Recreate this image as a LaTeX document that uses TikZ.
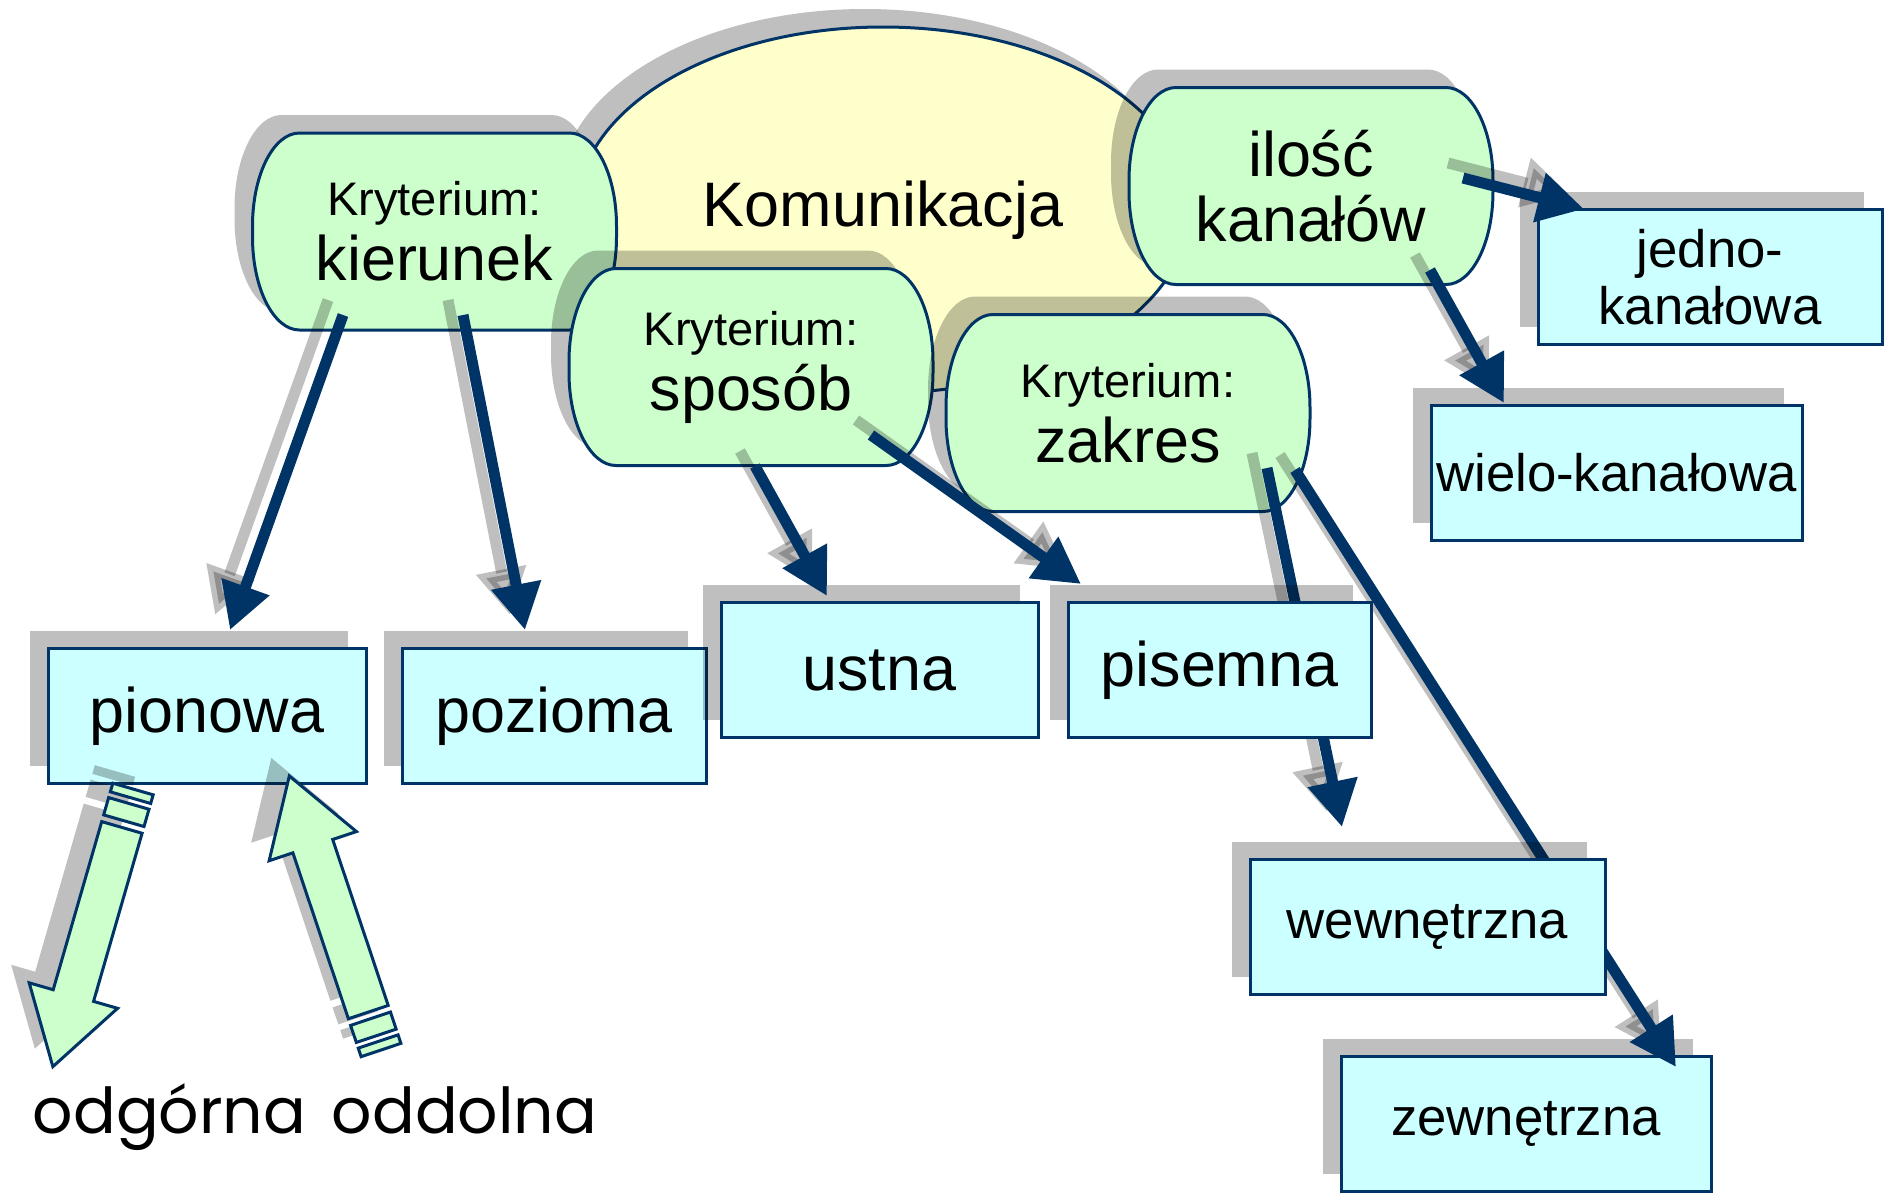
\documentclass[tikz,border=0pt]{standalone}
\usepackage{fontspec}
\setmainfont{Liberation Sans}
\newfontfamily\geofont{Poppins}
\usetikzlibrary{arrows.meta,shapes.geometric,shadows,calc}
\definecolor{navy}{RGB}{0,51,102}
\definecolor{critgreen}{RGB}{204,255,204}
\definecolor{boxcyan}{RGB}{204,255,255}
\definecolor{ellyellow}{RGB}{255,255,204}
\pgfdeclarelayer{front}
\pgfsetlayers{main,front}

\begin{document}
\begin{tikzpicture}[
  sh/.style={drop shadow={shadow xshift=-0.18cm, shadow yshift=0.18cm, fill=black, opacity=0.25}},
  box/.style={draw=navy, line width=0.03cm, fill=boxcyan, sh, inner sep=0pt, minimum height=1.35cm, font=\fontsize{17.9}{19}\selectfont},
  smallbox/.style={box, align=center, font=\fontsize{15}{16.3}\selectfont},
  crit/.style={draw=navy, line width=0.03cm, fill=critgreen, sh},
  ovalpath/.style={insert path={(-1.35,0.985) -- (1.35,0.985)
      arc[start angle=90, end angle=0, x radius=0.47, y radius=0.93] -- (1.82,-0.055)
      arc[start angle=0, end angle=-90, x radius=0.47, y radius=0.93] -- (-1.35,-0.985)
      arc[start angle=-90, end angle=-180, x radius=0.47, y radius=0.93] -- (-1.82,0.055)
      arc[start angle=180, end angle=90, x radius=0.47, y radius=0.93] -- cycle}},
  crittext/.style={align=center, font=\fontsize{17.9}{18.5}\selectfont},
  arrow/.style={draw=navy, line width=0.11cm, -{Triangle[length=0.46cm, width=0.48cm]},
    preaction={draw=black, line width=0.11cm, opacity=0.25, transform canvas={shift={(-0.15,0.15)}}}},
  hollow/.style={draw=navy, line width=0.03cm, fill=critgreen},
  hollowsh/.style={fill=black, opacity=0.25},
  stripearrow/.pic={
    \path[pic actions] (0,-0.21) rectangle (0.09,0.21);
    \path[pic actions] (0.15,-0.21) rectangle (0.33,0.21);
    \path[pic actions] (0.40,-0.21) -- (2.15,-0.21) -- (2.15,-0.46) -- (2.89,0)
      -- (2.15,0.46) -- (2.15,0.21) -- (0.40,0.21) -- cycle;
  }
]
\useasboundingbox (0,0) rectangle (18.84,-11.97);

\node[ellipse, draw=navy, line width=0.03cm, fill=ellyellow, sh, inner sep=0pt,
  minimum width=6.12cm, minimum height=3.66cm, font=\fontsize{17.9}{19}\selectfont] (kom) at (8.83,-2.10) {Komunikacja};

\path[crit, shift={(4.345,-2.315)}, ovalpath];
\node[crittext] (kier) at (4.345,-2.315) {{\fontsize{13.4}{18.5}\selectfont Kryterium:}\\kierunek};
\path[crit, shift={(13.11,-1.86)}, ovalpath];
\node[crittext] (ilo) at (13.11,-1.86) {ilość\\kanałów};
\path[crit, shift={(7.51,-3.67)}, ovalpath];
\node[crittext] (spo) at (7.51,-3.67) {{\fontsize{13.4}{18.5}\selectfont Kryterium:}\\sposób};
\path[crit, shift={(11.28,-4.13)}, ovalpath];
\node[crittext] (zak) at (11.28,-4.13) {{\fontsize{13.4}{18.5}\selectfont Kryterium:}\\zakres};

\node[box, minimum width=3.18cm] (pion) at (2.07,-7.16) {pionowa};
\node[box, minimum width=3.04cm] (poz) at (5.54,-7.16) {pozioma};
\node[box, minimum width=3.17cm] (ust) at (8.795,-6.70) {ustna};
\node[smallbox, minimum width=3.70cm] (zew) at (15.26,-11.24) {zewnętrzna};
\node[smallbox, minimum width=3.44cm] (jed) at (17.10,-2.77) {jedno-\\kanałowa};
\node[smallbox, minimum width=3.71cm] (wie) at (16.165,-4.73) {wielo-kanałowa};
\begin{pgfonlayer}{front}
\node[box, minimum width=3.03cm] (pis) at (12.195,-6.70) {pisemna};
\node[smallbox, minimum width=3.55cm] (wew) at (14.275,-9.27) {wewnętrzna};
\end{pgfonlayer}

\draw[arrow] ([shift={(-0.915,-0.835)}]kier.center) -- ([shift={(0.23,0.17)}]pion.north);
\draw[arrow] ([shift={(0.285,-0.835)}]kier.center) -- ([shift={(-0.29,0.17)}]poz.north);
\draw[arrow] ([shift={(0.04,-0.99)}]spo.center) -- ([shift={(-0.525,0.05)}]ust.north);
\draw[arrow] ([shift={(1.20,-0.68)}]spo.center) -- ([shift={(-1.385,0.17)}]pis.north);
\draw[arrow] ([shift={(1.39,-0.55)}]zak.center) -- ([shift={(-0.855,0.31)}]wew.north);
\draw[arrow] ([shift={(1.67,-0.57)}]zak.center) -- ([shift={(1.50,-0.12)}]zew.north);
\draw[arrow] ([shift={(1.52,0.08)}]ilo.center) -- ([shift={(-1.26,-0.01)}]jed.north);
\draw[arrow] ([shift={(1.19,-0.84)}]ilo.center) -- ([shift={(-1.125,0.01)}]wie.north);

\coordinate (down) at (1.33,-7.89);
\coordinate (up) at (3.81,-10.50);
\pic[rotate=-106.1, hollowsh] at ($(down)+(-0.18,0.18)$) {stripearrow};
\pic[rotate=-106.1, hollow] at (down) {stripearrow};
\pic[rotate=108.5, hollowsh] at ($(up)+(-0.18,0.18)$) {stripearrow};
\pic[rotate=108.5, hollow] at (up) {stripearrow};

\node[anchor=base, font=\geofont\fontsize{18}{20}\selectfont] (odg) at (1.695,-11.33) {odgórna};
\node[anchor=base, font=\geofont\fontsize{18}{20}\selectfont] (odd) at (4.645,-11.33) {oddolna};
\end{tikzpicture}
\end{document}
